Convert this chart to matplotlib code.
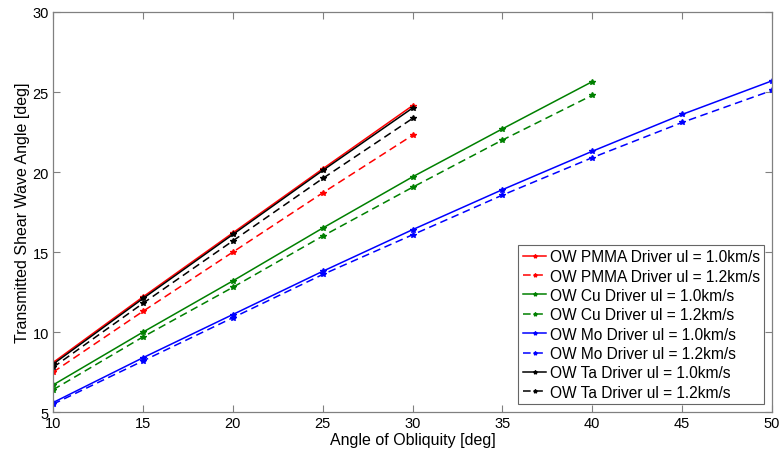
import matplotlib
matplotlib.use('Agg')
import matplotlib.pyplot as plt

plt.rcParams['font.family'] = ['Liberation Sans', 'DejaVu Sans']

# angulo de oblicuidad
ang_30 = [10, 15, 20, 25, 30]
ang_40 = [10, 15, 20, 25, 30, 35, 40]
ang_50 = [10, 15, 20, 25, 30, 35, 40, 45, 50]

pmma_10 = [8.1, 12.2, 16.2, 20.2, 24.15]
pmma_12 = [7.5, 11.3, 15.0, 18.7, 22.3]
cu_10 = [6.7, 10.0, 13.2, 16.5, 19.7, 22.7, 25.65]
cu_12 = [6.4, 9.7, 12.8, 16.0, 19.05, 22.0, 24.8]
mo_10 = [5.6, 8.4, 11.1, 13.8, 16.4, 18.9, 21.3, 23.6, 25.7]
mo_12 = [5.5, 8.2, 10.9, 13.6, 16.08, 18.56, 20.9, 23.1, 25.1]
ta_10 = [8.0, 12.1, 16.1, 20.1, 24.0]
ta_12 = [7.8, 11.8, 15.7, 19.6, 23.35]

labels = ['OW PMMA Driver ul = 1.0km/s', 'OW PMMA Driver ul = 1.2km/s',
          'OW Cu Driver ul = 1.0km/s', 'OW Cu Driver ul = 1.2km/s',
          'OW Mo Driver ul = 1.0km/s', 'OW Mo Driver ul = 1.2km/s',
          'OW Ta Driver ul = 1.0km/s', 'OW Ta Driver ul = 1.2km/s']

series = [(ang_30, pmma_10, '#ff0000', '-'), (ang_30, pmma_12, '#ff0000', '--'),
          (ang_40, cu_10, '#008000', '-'), (ang_40, cu_12, '#008000', '--'),
          (ang_50, mo_10, '#0000ff', '-'), (ang_50, mo_12, '#0000ff', '--'),
          (ang_30, ta_10, 'black', '-'), (ang_30, ta_12, 'black', '--')]

fig = plt.figure(figsize=(7.81, 4.56), dpi=100)
ax = fig.add_axes([0.068, 0.094, 0.9205, 0.8775])

for (x, y, col, ls), lab in zip(series, labels):
    ax.plot(x, y, color=col, linestyle=ls, linewidth=1.1, marker='*',
            markersize=4, label=lab, dashes=(5, 3) if ls == '--' else ())

ax.set_xlim(10, 50)
ax.set_ylim(5, 30)
ax.set_xticks(range(10, 51, 5))
ax.set_yticks(range(5, 31, 5))
ax.tick_params(direction='in', length=5, colors='#808080', labelcolor='black',
               labelsize=10.5, top=True, right=True, pad=3)
for s in ax.spines.values():
    s.set_color('#808080')
    s.set_linewidth(0.9)

ax.set_xlabel('Angle of Obliquity [deg]', fontsize=11.5, labelpad=1)
ax.set_ylabel('Transmitted Shear Wave Angle [deg]', fontsize=11.5, labelpad=2)

leg = ax.legend(loc='lower right', fontsize=11.2, frameon=True, fancybox=False,
                edgecolor='#404040', handlelength=1.5, handletextpad=0.2,
                labelspacing=0.28, borderaxespad=0.5, borderpad=0.3,
                markerscale=0.7)
leg.get_frame().set_linewidth(0.8)

plt.savefig('out.png', dpi=100)
plt.close()
